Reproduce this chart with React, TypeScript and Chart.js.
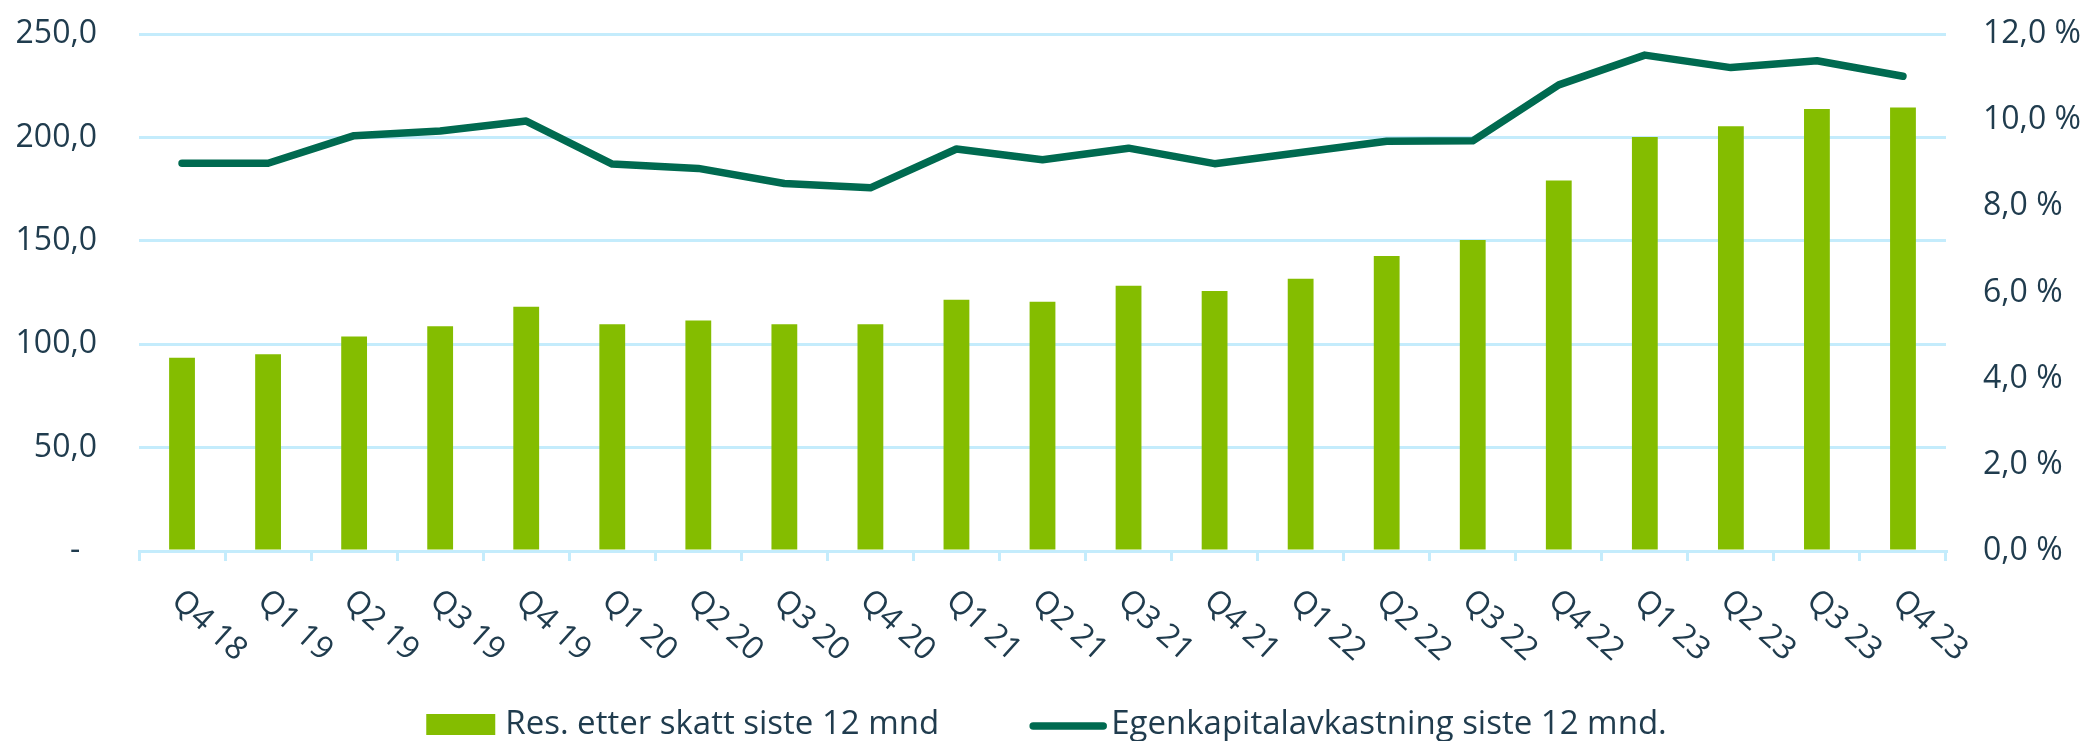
import React, { useEffect, useRef } from 'react';
import { Chart, registerables } from 'chart.js';

Chart.register(...registerables);

const categories = [
  'Q4 18', 'Q1 19', 'Q2 19', 'Q3 19', 'Q4 19', 'Q1 20', 'Q2 20', 'Q3 20', 'Q4 20',
  'Q1 21', 'Q2 21', 'Q3 21', 'Q4 21', 'Q1 22', 'Q2 22', 'Q3 22', 'Q4 22',
  'Q1 23', 'Q2 23', 'Q3 23', 'Q4 23',
];

const resultValues = [
  93.5, 95.2, 103.7, 108.7, 118.1, 109.6, 111.5, 109.6, 109.6,
  121.5, 120.5, 128.3, 125.7, 131.7, 142.6, 150.4, 179.1,
  200.2, 205.4, 213.7, 214.5,
];

const roeValues = [
  9.0, 9.0, 9.64, 9.75, 9.98, 8.98, 8.88, 8.53, 8.43,
  9.33, 9.08, 9.35, 8.99, 9.25, 9.51, 9.52, 10.82,
  11.51, 11.22, 11.38, 11.02,
];

const leftAxisMin = 0;
const leftAxisMax = 250;
const leftAxisStep = 50;
const rightAxisMin = 0;
const rightAxisMax = 12;
const rightAxisStep = 2;

const seriesLabels = ['Res. etter skatt siste 12 mnd', 'Egenkapitalavkastning siste 12 mnd.'];

const BAR_COLOR = '#84bd00';
const LINE_COLOR = '#006a50';
const TEXT_COLOR = '#203c4e';
const GRID_COLOR = '#c4ecfc';
const FONT_FAMILY = '"Open Sans", "Noto Sans", sans-serif';
const FONT_SIZE = 32;
const LEGEND_FONT_SIZE = 33;

const fmt = (v: number) => v.toFixed(1).replace('.', ',');

const customPlugin = {
  id: 'customLabelsAndLegend',
  afterDraw(chart: any) {
    const ctx = chart.ctx as CanvasRenderingContext2D;
    const xScale = chart.scales.x;
    ctx.save();
    ctx.font = `${FONT_SIZE}px ${FONT_FAMILY}`;
    ctx.fillStyle = TEXT_COLOR;
    ctx.textAlign = 'left';
    ctx.textBaseline = 'alphabetic';
    (chart.data.labels as string[]).forEach((lab, i) => {
      const px = xScale.getPixelForTick(i);
      ctx.save();
      ctx.translate(px - 12, xScale.top + 52);
      ctx.rotate((42 * Math.PI) / 180);
      ctx.fillText(lab, 0, 0);
      ctx.restore();
    });

    // legend
    ctx.font = `${LEGEND_FONT_SIZE}px ${FONT_FAMILY}`;
    const ds = chart.data.datasets as any[];
    const barDs = ds.find((d) => d.type === 'bar');
    const lineDs = ds.find((d) => d.type === 'line');
    const t1 = barDs.label as string;
    const t2 = lineDs.label as string;
    const w1 = ctx.measureText(t1).width;
    const w2 = ctx.measureText(t2).width;
    const boxW = 69, boxH = 21, gapBoxText = 10, gapItems = 90, lineW = 78, gapLineText = 4;
    const total = boxW + gapBoxText + w1 + gapItems + lineW + gapLineText + w2;
    let x = chart.width / 2 + 4 - total / 2;
    const baseline = chart.height - 7;
    ctx.fillStyle = barDs.backgroundColor;
    ctx.fillRect(x, baseline - 20, boxW, boxH);
    x += boxW + gapBoxText;
    ctx.fillStyle = TEXT_COLOR;
    ctx.fillText(t1, x, baseline);
    x += w1 + gapItems;
    ctx.strokeStyle = lineDs.borderColor;
    ctx.lineWidth = 7.5;
    ctx.lineCap = 'round';
    ctx.beginPath();
    ctx.moveTo(x + 4, baseline - 8);
    ctx.lineTo(x + lineW - 4, baseline - 8);
    ctx.stroke();
    x += lineW + gapLineText;
    ctx.fillStyle = TEXT_COLOR;
    ctx.fillText(t2, x, baseline);
    ctx.restore();
  },
};

export default function App() {
  const canvasRef = useRef<HTMLCanvasElement>(null);

  useEffect(() => {
    let chart: Chart | null = null;
    let cancelled = false;
    const make = () => {
      if (cancelled || !canvasRef.current) return;
      chart = new Chart(canvasRef.current, {
        type: 'bar',
        data: {
          labels: categories,
          datasets: [
            {
              type: 'line',
              label: seriesLabels[1],
              data: roeValues,
              yAxisID: 'y1',
              borderColor: LINE_COLOR,
              backgroundColor: LINE_COLOR,
              borderWidth: 7.5,
              pointRadius: 0,
              pointHoverRadius: 0,
              tension: 0,
              borderCapStyle: 'round',
              borderJoinStyle: 'round',
              order: 0,
            } as any,
            {
              type: 'bar',
              label: seriesLabels[0],
              data: resultValues,
              yAxisID: 'y',
              backgroundColor: BAR_COLOR,
              borderWidth: 0,
              barPercentage: 0.3,
              categoryPercentage: 1,
              order: 1,
            } as any,
          ],
        },
        options: {
          responsive: false,
          animation: false,
          devicePixelRatio: 1,
          layout: { padding: { top: 34, left: 0, right: 0, bottom: 0 } },
          plugins: {
            legend: { display: false },
            tooltip: { enabled: false },
            title: { display: false },
          },
          scales: {
            x: {
              offset: true,
              grid: {
                display: true,
                offset: true,
                drawOnChartArea: false,
                drawTicks: true,
                tickLength: 10,
                color: GRID_COLOR,
                lineWidth: 3,
              },
              border: { display: true, color: GRID_COLOR, width: 3 },
              ticks: { display: false },
              afterFit: (scale: any) => {
                scale.height = 190;
              },
            },
            y: {
              position: 'left',
              min: leftAxisMin,
              max: leftAxisMax,
              ticks: {
                stepSize: leftAxisStep,
                padding: 42,
                color: TEXT_COLOR,
                font: { family: FONT_FAMILY, size: FONT_SIZE },
                callback: (v: any) => (Number(v) === 0 ? '-  ' : fmt(Number(v))),
              },
              grid: { color: GRID_COLOR, lineWidth: 3, drawTicks: false },
              border: { display: false },
              afterFit: (scale: any) => {
                scale.width = 139;
                scale.paddingTop = 0;
                scale.paddingBottom = 0;
              },
            },
            y1: {
              position: 'right',
              min: rightAxisMin,
              max: rightAxisMax,
              ticks: {
                stepSize: rightAxisStep,
                padding: 37,
                color: TEXT_COLOR,
                font: { family: FONT_FAMILY, size: FONT_SIZE },
                callback: (v: any) => `${fmt(Number(v))} %`,
              },
              grid: { drawOnChartArea: false, drawTicks: false },
              border: { display: false },
              afterFit: (scale: any) => {
                scale.width = 139;
                scale.paddingTop = 0;
                scale.paddingBottom = 0;
              },
            },
          },
        } as any,
        plugins: [customPlugin],
      });
    };
    const fonts = (document as any).fonts;
    if (fonts && fonts.load) {
      fonts.load(`${FONT_SIZE}px "Open Sans"`).then(make, make);
    } else {
      make();
    }
    return () => {
      cancelled = true;
      if (chart) chart.destroy();
    };
  }, []);

  return (
    <div style={{ position: 'absolute', left: 0, top: 0, width: 2085, height: 741, background: '#ffffff' }}>
      <canvas ref={canvasRef} width={2085} height={741} style={{ display: 'block' }} />
    </div>
  );
}
